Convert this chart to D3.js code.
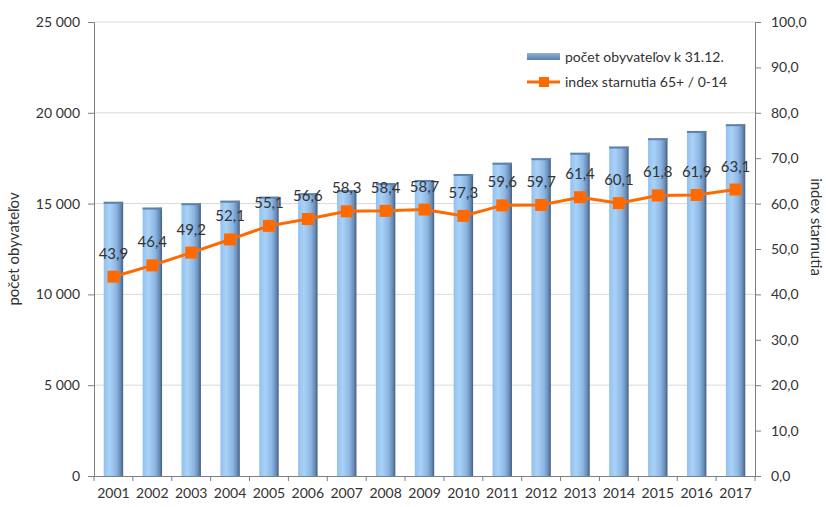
<!DOCTYPE html>
<html>
<head>
<meta charset="utf-8">
<script src="https://cdn.jsdelivr.net/npm/d3@7"></script>
<style>
  body { margin: 0; background: #fff; }
  text { font-family: Lato, "Open Sans", sans-serif; fill: #333; }
</style>
</head>
<body>
<svg id="chart" width="826" height="507"></svg>
<script>
// Data
const years = ["2001","2002","2003","2004","2005","2006","2007","2008","2009",
               "2010","2011","2012","2013","2014","2015","2016","2017"];
const population = [15100, 14780, 15020, 15160, 15380, 15570, 15750, 16130, 16300,
                    16630, 17250, 17500, 17800, 18140, 18600, 19000, 19370];
const agingIndex = [43.9, 46.4, 49.2, 52.1, 55.1, 56.6, 58.3, 58.4, 58.7,
                    57.3, 59.6, 59.7, 61.4, 60.1, 61.8, 61.9, 63.1];
const leftTicks = [0, 5000, 10000, 15000, 20000, 25000];
const rightTicks = [0, 10, 20, 30, 40, 50, 60, 70, 80, 90, 100];

const margin = {top: 22, right: 71, bottom: 31, left: 94},
      width = 826 - margin.left - margin.right,
      height = 507 - margin.top - margin.bottom;

const svg = d3.select("#chart");
const g = svg.append("g")
    .attr("transform", "translate(" + margin.left + "," + margin.top + ")");

// gradients for the bars
const defs = svg.append("defs");
const grad = defs.append("linearGradient").attr("id", "barGrad")
    .attr("x1", "0").attr("x2", "1").attr("y1", "0").attr("y2", "0");
[[0, "#93c0ec"], [0.3, "#a9d2f8"], [0.65, "#8cb6e2"], [0.85, "#6a8fba"], [1, "#465f80"]]
  .forEach(s => grad.append("stop").attr("offset", s[0]).attr("stop-color", s[1]));
const legGrad = defs.append("linearGradient").attr("id", "legGrad")
    .attr("x1", "0").attr("x2", "0").attr("y1", "0").attr("y2", "1");
[[0, "#8fb2da"], [1, "#5b7fab"]]
  .forEach(s => legGrad.append("stop").attr("offset", s[0]).attr("stop-color", s[1]));

// scales
const x = d3.scaleBand().domain(years).range([0, width]).paddingInner(0.5).paddingOuter(0.25);
const xTicks = d3.scaleBand().domain(years).range([0, width]);
const y = d3.scaleLinear().domain([0, 25000]).range([height, 0]);
const y2 = d3.scaleLinear().domain([0, 100]).range([height, 0]);

// grid lines
g.append("g")
  .selectAll("line")
  .data(leftTicks.slice(1))
  .enter().append("line")
    .attr("x1", 0).attr("x2", width)
    .attr("y1", d => y(d)).attr("y2", d => y(d))
    .attr("stroke", "#d9d9d9").attr("stroke-width", 1);

// bars
g.selectAll(".bar")
    .data(population)
  .enter().append("rect")
    .attr("class", "bar")
    .attr("x", (d, i) => x(years[i]))
    .attr("width", x.bandwidth())
    .attr("y", d => y(d))
    .attr("height", d => height - y(d))
    .attr("fill", "url(#barGrad)");
// darker top cap
g.selectAll(".cap")
    .data(population)
  .enter().append("rect")
    .attr("class", "cap")
    .attr("x", (d, i) => x(years[i]))
    .attr("width", x.bandwidth())
    .attr("y", d => y(d))
    .attr("height", 2)
    .attr("fill", "#5f82ad");

// left axis
const fmt = d => d3.format(",")(d).replace(",", " ");
const axL = g.append("g")
    .call(d3.axisLeft(y).tickValues(leftTicks).tickSize(6).tickPadding(8).tickFormat(fmt));
axL.select(".domain").attr("stroke", "#7f7f7f");
axL.selectAll(".tick line").attr("stroke", "#7f7f7f");
axL.selectAll("text").style("font-size", "14px").attr("fill", "#333");

// right axis
const axR = g.append("g")
    .attr("transform", "translate(" + width + ",0)")
    .call(d3.axisRight(y2).tickValues(rightTicks).tickSize(6).tickPadding(10)
      .tickFormat(d => d3.format(".1f")(d).replace(".", ",")));
axR.select(".domain").attr("stroke", "#7f7f7f");
axR.selectAll(".tick line").attr("stroke", "#7f7f7f");
axR.selectAll("text").style("font-size", "14px").attr("fill", "#333");

// bottom axis
const axB = g.append("g")
    .attr("transform", "translate(0," + height + ")")
    .call(d3.axisBottom(x).tickSize(0).tickPadding(12));
axB.select(".domain").attr("stroke", "#7f7f7f");
axB.selectAll("text").style("font-size", "14px").attr("fill", "#222");
g.append("g").selectAll("line")
    .data(years.concat(["end"]))
  .enter().append("line")
    .attr("x1", (d, i) => i * xTicks.step()).attr("x2", (d, i) => i * xTicks.step())
    .attr("y1", height).attr("y2", height + 5)
    .attr("stroke", "#7f7f7f");

// line series
const line = d3.line()
    .x((d, i) => x(years[i]) + x.bandwidth() / 2)
    .y(d => y2(d));
g.append("path")
    .datum(agingIndex)
    .attr("fill", "none")
    .attr("stroke", "#ff6a00")
    .attr("stroke-width", 3)
    .attr("d", line);
g.selectAll(".marker")
    .data(agingIndex)
  .enter().append("rect")
    .attr("class", "marker")
    .attr("x", (d, i) => x(years[i]) + x.bandwidth() / 2 - 6)
    .attr("y", d => y2(d) - 6)
    .attr("width", 12).attr("height", 12)
    .attr("fill", "#ff6a00");
g.selectAll(".lbl")
    .data(agingIndex)
  .enter().append("text")
    .attr("class", "lbl")
    .attr("x", (d, i) => x(years[i]) + x.bandwidth() / 2)
    .attr("y", d => y2(d) - 18)
    .attr("text-anchor", "middle")
    .style("font-size", "15px")
    .attr("fill", "#333")
    .text(d => d3.format(".1f")(d).replace(".", ","));

// axis titles
svg.append("text")
    .attr("transform", "translate(19," + (margin.top + height / 2) + ") rotate(-90)")
    .attr("text-anchor", "middle")
    .style("font-size", "15px")
    .text("počet obyvateľov");
svg.append("text")
    .attr("transform", "translate(811," + (margin.top + height / 2 - 22) + ") rotate(90)")
    .attr("text-anchor", "middle")
    .style("font-size", "15px")
    .text("index starnutia");

// legend
const leg = svg.append("g").attr("transform", "translate(527,50)");
leg.append("rect").attr("x", 0).attr("y", 3).attr("width", 33).attr("height", 7)
    .attr("fill", "url(#legGrad)");
leg.append("text").attr("x", 38).attr("y", 7).attr("dy", "0.35em")
    .style("font-size", "14px").text("počet obyvateľov k 31.12.");
leg.append("line").attr("x1", 0).attr("x2", 33).attr("y1", 32).attr("y2", 32)
    .attr("stroke", "#ff6a00").attr("stroke-width", 3);
leg.append("rect").attr("x", 12).attr("y", 27).attr("width", 10).attr("height", 10)
    .attr("fill", "#ff6a00");
leg.append("text").attr("x", 38).attr("y", 32).attr("dy", "0.35em")
    .style("font-size", "14px").text("index starnutia 65+ / 0-14");
</script>
</body>
</html>
